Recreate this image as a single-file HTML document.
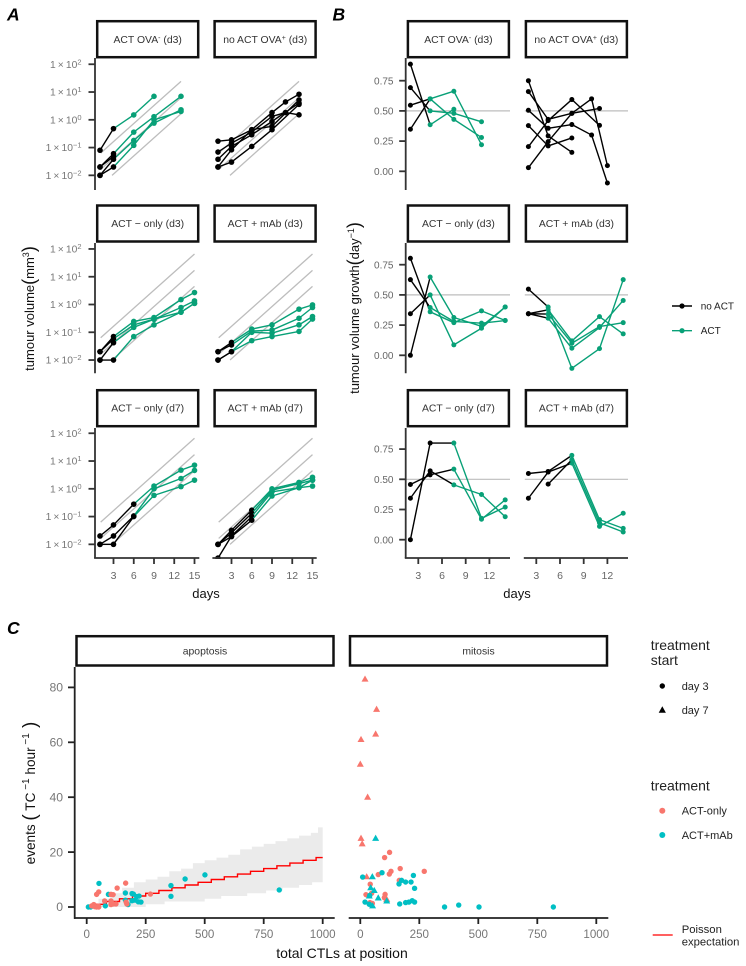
<!DOCTYPE html>
<html lang="en">
<head>
<meta charset="utf-8">
<title>Tumour growth and CTL events</title>
<style>
html,body{margin:0;padding:0;background:#fff;}
svg{display:block;font-family:"Liberation Sans",Arial,sans-serif;}
.strip rect{fill:#fff;stroke:#111;stroke-width:2.5;}
.strip text{font-size:10.4px;fill:#333;text-anchor:middle;}
.letter{font-size:17.5px;font-weight:bold;font-style:italic;fill:#000;}
.title{fill:#111;}
.leg{fill:#222;}
</style>
</head>
<body>
<svg id="figure" xmlns="http://www.w3.org/2000/svg" width="746" height="966" viewBox="0 0 746 966">
<g id="marks"></g>

<text class="letter" x="7" y="20.5">A</text>
<text class="letter" x="332.5" y="20.5">B</text>
<text class="letter" x="7" y="634">C</text>

<g class="strip"><rect x="97.2" y="21.2" width="101" height="36"/><text x="147.7" y="43">ACT OVA<tspan dy="-3" font-size="7">-</tspan><tspan dy="3"> (d3)</tspan></text></g>
<g class="strip"><rect x="214.6" y="21.2" width="101" height="36"/><text x="265.2" y="43">no ACT OVA<tspan dy="-3" font-size="7">+</tspan><tspan dy="3"> (d3)</tspan></text></g>
<g class="strip"><rect x="97.2" y="205.5" width="101" height="36"/><text x="147.7" y="227">ACT − only (d3)</text></g>
<g class="strip"><rect x="214.6" y="205.5" width="101" height="36"/><text x="265.2" y="227">ACT + mAb (d3)</text></g>
<g class="strip"><rect x="97.2" y="390.2" width="101" height="36"/><text x="147.7" y="411.5">ACT − only (d7)</text></g>
<g class="strip"><rect x="214.6" y="390.2" width="101" height="36"/><text x="265.2" y="411.5">ACT + mAb (d7)</text></g>

<g class="strip"><rect x="407.9" y="21.2" width="101" height="36"/><text x="458.4" y="43">ACT OVA<tspan dy="-3" font-size="7">-</tspan><tspan dy="3"> (d3)</tspan></text></g>
<g class="strip"><rect x="525.9" y="21.2" width="101" height="36"/><text x="576.4" y="43">no ACT OVA<tspan dy="-3" font-size="7">+</tspan><tspan dy="3"> (d3)</tspan></text></g>
<g class="strip"><rect x="407.9" y="205.5" width="101" height="36"/><text x="458.4" y="227">ACT − only (d3)</text></g>
<g class="strip"><rect x="525.9" y="205.5" width="101" height="36"/><text x="576.4" y="227">ACT + mAb (d3)</text></g>
<g class="strip"><rect x="407.9" y="390.2" width="101" height="36"/><text x="458.4" y="411.5">ACT − only (d7)</text></g>
<g class="strip"><rect x="525.9" y="390.2" width="101" height="36"/><text x="576.4" y="411.5">ACT + mAb (d7)</text></g>

<g class="strip"><rect x="76.5" y="636.2" width="257" height="29.3"/><text x="205" y="654.5">apoptosis</text></g>
<g class="strip"><rect x="350" y="636.2" width="257" height="29.3"/><text x="478.5" y="654.5">mitosis</text></g>

<text class="title" transform="translate(34,308.5) rotate(-90)" text-anchor="middle" font-size="13">tumour volume<tspan font-size="18" dy="1">(</tspan><tspan dy="-1">mm</tspan><tspan font-size="9" dy="-5">3</tspan><tspan font-size="18" dy="6">)</tspan></text>
<text class="title" transform="translate(359,308) rotate(-90)" text-anchor="middle" font-size="13">tumour volume growth<tspan font-size="18" dy="1">(</tspan><tspan dy="-1">day</tspan><tspan font-size="9" dy="-5">−1</tspan><tspan font-size="18" dy="6">)</tspan></text>
<text class="title" x="206" y="598" text-anchor="middle" font-size="13">days</text>
<text class="title" x="517" y="598" text-anchor="middle" font-size="13">days</text>
<text class="title" x="342" y="958" text-anchor="middle" font-size="14">total CTLs at position</text>
<text class="title" transform="translate(35,793) rotate(-90)" text-anchor="middle" font-size="13.6">events <tspan font-size="19" dy="1">(</tspan><tspan dy="-1"> TC</tspan><tspan font-size="10" dy="-6"> −1</tspan><tspan dy="6">  hour</tspan><tspan font-size="10" dy="-6"> −1</tspan><tspan font-size="19" dy="7"> )</tspan></text>

<g>
  <g>
    <line x1="672" y1="306" x2="692" y2="306" stroke="#000" stroke-width="1.4"/><circle cx="682" cy="306" r="2.6" fill="#000"/>
    <text class="leg" x="700.7" y="309.5" font-size="10">no ACT</text>
  </g>
  <g>
    <line x1="672" y1="330.7" x2="692" y2="330.7" stroke="#08A077" stroke-width="1.4"/><circle cx="682" cy="330.7" r="2.6" fill="#08A077"/>
    <text class="leg" x="700.7" y="334.2" font-size="10">ACT</text>
  </g>
</g>

<g>
  <text class="leg" x="650.7" y="650" font-size="14">treatment</text>
  <text class="leg" x="650.7" y="665" font-size="14">start</text>
  <g><circle cx="662.3" cy="686" r="2.7" fill="#000"/><text class="leg" x="681.7" y="690" font-size="11">day 3</text></g>
  <g><polygon points="662.3,706.3 665.9,712.7 658.7,712.7" fill="#000"/><text class="leg" x="681.7" y="714" font-size="11">day 7</text></g>
</g>

<g>
  <text class="leg" x="650.7" y="790.5" font-size="14">treatment</text>
  <g><circle cx="662.3" cy="810.7" r="3" fill="#F8766D"/><text class="leg" x="681.7" y="814.7" font-size="11">ACT-only</text></g>
  <g><circle cx="662.3" cy="835" r="3" fill="#00BFC4"/><text class="leg" x="681.7" y="839" font-size="11">ACT+mAb</text></g>
</g>

<g>
  <line x1="652.7" y1="935" x2="672.7" y2="935" stroke="#FF0000" stroke-width="1.3"/>
  <text class="leg" x="681.7" y="933" font-size="11.3">Poisson</text>
  <text class="leg" x="681.7" y="945.5" font-size="11.3">expectation</text>
</g>
</svg>

<script>
// ---- Panel A: tumour volume (mm3) ----
const volumeTicks = [100, 10, 1, 0.1, 0.01];
const volumeTickExponents = ['2', '1', '0', '−1', '−2'];
const dayTickLabels = [3, 6, 9, 12, 15];
const growthReferenceAtDay15 = [66, 17, 4.5];

const volDaysOvaNeg = [1, 3, 6, 9, 13];
const volOvaNeg = [
  [0.08, 0.48, 1.5, 7, null],
  [0.02, 0.06, 0.36, 1.3, 7],
  [0.01, 0.038, 0.18, 0.76, 2.3],
  [0.01, 0.02, 0.12, 1.0, 2.0],
  [0.02, 0.048, null, null, null]
];
const volDaysOvaPos = [1, 3, 6, 9, 11, 13];
const volOvaPos = [
  [0.17, 0.19, 0.44, 1.82, 4.4, 8.3],
  [0.069, 0.145, 0.36, 1.32, 1.82, 1.51],
  [0.038, 0.11, 0.29, 0.87, null, 4.0],
  [0.02, 0.083, 0.44, 0.58, null, 5.2],
  [0.02, 0.03, 0.11, 0.44, null, 3.6]
];
const volDaysFull = [1, 3, 6, 9, 13, 15];
const volOnlyD3 = [
  [0.02, 0.07, 0.245, 0.34, 1.5, 2.7],
  [0.02, 0.058, 0.185, 0.295, 0.53, 1.1],
  [0.01, 0.042, 0.15, 0.295, 0.78, 1.35],
  [0.01, 0.01, 0.07, 0.185, 0.53, 1.1]
];
const volMabD3 = [
  [0.02, 0.043, 0.13, 0.185, 0.68, 0.97],
  [0.02, 0.035, 0.11, 0.12, 0.32, 0.78],
  [0.01, 0.02, 0.1, 0.093, 0.185, 0.37],
  [0.01, 0.02, 0.05, 0.07, 0.107, 0.30]
];
const volOnlyD7 = [
  [0.02, 0.05, 0.28, 1.25, 4.7, 7.1],
  [0.01, 0.02, 0.105, 1.0, 2.35, 4.6],
  [0.01, 0.01, 0.1, 0.58, 1.2, 2.05]
];
const volMabD7 = [
  [0.01, 0.032, 0.17, 1.0, 1.7, 2.6],
  [0.01, 0.026, 0.13, 0.89, 1.55, 2.05],
  [0.0032, 0.02, 0.1, 0.78, 1.1, 2.05],
  [0.01, 0.019, 0.074, 0.55, 1.1, 1.25]
];

// ---- Panel B: tumour volume growth (per day) ----
const growthTicks = [0.75, 0.5, 0.25, 0];
const growthTickLabels = ['0.75', '0.50', '0.25', '0.00'];
const growthDayTicks = [3, 6, 9, 12];
const growthReferenceRate = 0.5;

const growthDays = [2, 4.5, 7.5, 11, 14];
const growthOvaNeg = [
  [0.887, 0.385, 0.514, null, null],
  [0.693, 0.5, 0.48, 0.41, null],
  [0.547, 0.6, 0.663, 0.22, null],
  [0.348, 0.6, 0.43, 0.28, null]
];
const growthDaysOvaPos = [2, 4.5, 7.5, 10, 11, 12];
const growthOvaPos = [
  [0.75, 0.293, 0.157, null, null, null],
  [0.66, 0.43, 0.48, null, 0.52, null],
  [0.505, 0.356, 0.387, 0.30, null, -0.097],
  [0.378, 0.21, 0.276, null, null, null],
  [0.204, 0.42, 0.594, null, 0.38, null],
  [0.03, 0.246, 0.48, 0.6, null, 0.047]
];
const growthOnlyD3 = [
  [0.803, 0.36, 0.27, 0.368, 0.288],
  [0.626, 0.396, 0.28, 0.266, 0.288],
  [0.344, 0.5, 0.086, 0.224, 0.4],
  [0, 0.648, 0.313, 0.24, 0.4]
];
const growthMabD3 = [
  [0.548, 0.4, -0.108, 0.055, 0.626],
  [0.344, 0.377, 0.119, 0.32, 0.177],
  [0.344, 0.341, 0.1, 0.238, 0.27],
  [0.344, 0.307, 0.058, 0.23, 0.454]
];
const growthOnlyD7 = [
  [0, 0.8, 0.8, 0.177, 0.27],
  [0.343, 0.57, 0.454, 0.374, 0.19],
  [0.457, 0.537, 0.584, 0.169, 0.33]
];
const growthMabD7 = [
  [0.548, 0.565, 0.698, 0.166, 0.094],
  [0.343, 0.56, 0.634, 0.11, 0.219],
  [null, 0.46, 0.662, 0.14, 0.064]
];

// ---- Panel C: events vs total CTLs ----
const eventTicks = [80, 60, 40, 20, 0];
const ctlTicks = [0, 250, 500, 750, 1000];

const apoptosisMabCtl = [52, 92, 164, 192, 198, 164, 192, 212, 222, 205, 219, 230, 175, 79, 7, 17, 357, 357, 417, 501, 816];
const apoptosisMabEvents = [8.6, 4.6, 5.1, 4.9, 4.7, 2.5, 2.3, 3.8, 4, 2.5, 1.9, 1.8, 0.9, 0.4, 0, 0, 7.8, 3.9, 10.2, 11.7, 6.2];
const apoptosisOnlyCtl = [165, 129, 51, 42, 103, 112, 270, 76, 103, 103, 124, 113, 167, 170, 30, 21, 35, 42, 51, 50];
const apoptosisOnlyEvents = [8.7, 6.9, 5.5, 4.6, 4.6, 4.5, 4.7, 2.2, 2.2, 0.9, 1.1, 1.1, 1.8, 1.1, 0.9, 0.4, 0.1, 0, 0, 0.3];

const mitosisOnlyDay7Ctl = [20, 69, 65, 3, 0, 31, 3, 8, 27, 112];
const mitosisOnlyDay7Events = [83, 72, 63, 61, 52, 40, 25, 23, 11, 2.8];
const mitosisMabDay7Ctl = [65, 51, 44, 59, 38, 76, 112, 52];
const mitosisMabDay7Events = [25, 11, 7, 6, 4, 3.3, 2.2, 0.4];
const mitosisOnlyDay3Ctl = [124, 103, 130, 123, 76, 169, 271, 165, 42, 24, 48, 105, 102, 41, 51];
const mitosisOnlyDay3Events = [19.9, 18, 13, 12, 11.8, 14, 13, 9.7, 8.3, 4.5, 5, 4.6, 3.4, 1.6, 1.3];
const mitosisMabDay3Ctl = [10, 92, 225, 175, 192, 215, 164, 230, 40, 20, 38, 167, 192, 206, 220, 230, 357, 417, 503, 818];
const mitosisMabDay3Events = [10.9, 12.5, 11.5, 9.7, 9.1, 9.1, 8.4, 6.8, 4.2, 1.8, 1, 1.1, 1.6, 1.8, 2.3, 1.8, 0, 0.7, 0, 0];

const poissonBreaks = [0, 28, 83, 139, 194, 250, 306, 361, 417, 472, 528, 583, 639, 694, 750, 806, 861, 917, 972];
const poissonMedian = [0, 1, 2, 3, 4, 5, 6, 7, 8, 9, 10, 11, 12, 13, 14, 15, 16, 17, 18];
const ribbonUpperBreaks = [0, 50, 100, 150, 200, 250, 300, 350, 400, 450, 500, 550, 600, 650, 700, 750, 800, 850, 900, 950, 980];
const ribbonUpper = [1, 3, 5, 7, 9, 10, 11, 13, 14, 16, 17, 18, 19, 21, 22, 23, 24, 25, 26, 27, 29];
const ribbonLowerBreaks = [0, 250, 330, 500, 570, 680, 760, 830, 900, 955];
const ribbonLower = [0, 1, 2, 3, 4, 5, 6, 7, 8, 9];

// ---- Drawing ----
const SVGNS = 'http://www.w3.org/2000/svg';
const BLACK = '#000000', GREEN = '#08A077', RED = '#F8766D', TEAL = '#00BFC4';
const root = document.getElementById('marks');

function add(parent, tag, attrs) {
  const el = document.createElementNS(SVGNS, tag);
  for (const k in attrs) el.setAttribute(k, attrs[k]);
  parent.appendChild(el);
  return el;
}
function addClip(id, x, y, w, h) {
  const c = add(root, 'clipPath', { id: id });
  add(c, 'rect', { x: x, y: y, width: w, height: h });
}

const rowsA = [{ y1: 119.8, top: 58, bottom: 190 }, { y1: 304.5, top: 243, bottom: 373.3 }, { y1: 488.8, top: 428, bottom: 558 }];
const rowsB = [{ y0: 171.3, top: 58, bottom: 190 }, { y0: 355.3, top: 243, bottom: 373.3 }, { y0: 539.7, top: 428, bottom: 558 }];
const colsA = [{ x1: 100, left: 95, right: 199.3 }, { x1: 218, left: 213.3, right: 316.7 }];
const colsB = [{ x0: 394.6, left: 405.7, right: 510 }, { x0: 512.6, left: 524.7, right: 628 }];

const PX_PER_DECADE = 27.77, PX_PER_DAY_A = 6.75, PX_PER_GROWTH = 120.8, PX_PER_DAY_B = 7.9;

function drawSeries(g, days, series, xFn, yFn, lastUntreated, r, colourByStart) {
  series.forEach(function (values) {
    let prev = null;
    values.forEach(function (v, i) {
      if (v === null) return;
      if (prev !== null) {
        const refDay = colourByStart ? days[prev] : days[i];
        const seg = add(g, 'line', { x1: xFn(days[prev]), y1: yFn(values[prev]), x2: xFn(days[i]), y2: yFn(v), stroke: refDay > lastUntreated ? GREEN : BLACK, 'stroke-width': 1.4 });
        
        
      }
      prev = i;
    });
    values.forEach(function (v, i) {
      if (v === null) return;
      const treated = days[i] > lastUntreated;
      const dot = add(g, 'circle', { cx: xFn(days[i]), cy: yFn(v), r: r, fill: treated ? GREEN : BLACK });
      
      
    });
  });
}

function drawVolumePanel(name, row, col, days, series, lastUntreated, refEndDay) {
  const R = rowsA[row], C = colsA[col];
  const xFn = function (d) { return C.x1 + (d - 1) * PX_PER_DAY_A; };
  const yFn = function (v) { return R.y1 - PX_PER_DECADE * Math.log10(v); };
  const clipId = 'clip-' + name;
  addClip(clipId, C.left, R.top, C.right - C.left, R.bottom - R.top + 1);
  const g = add(root, 'g', { 'clip-path': 'url(#' + clipId + ')' });
  
  
  growthReferenceAtDay15.forEach(function (v15) {
    const at = function (d) { return v15 * Math.pow(10, -(15 - d) * 0.5 / Math.LN10); };
    let start = 1.1;
    if (at(start) < 0.01) start = 15 - Math.log10(v15 / 0.01) * Math.LN10 / 0.5;
    const ref = add(g, 'line', { x1: xFn(start), y1: yFn(at(start)), x2: xFn(refEndDay), y2: yFn(at(refEndDay)), stroke: '#bdbdbd', 'stroke-width': 1.3 });
    
    
  });
  drawSeries(g, days, series, xFn, yFn, lastUntreated, 2.8, false);
  if (col === 0) {
    const axis = add(root, 'line', { x1: C.left, y1: R.top, x2: C.left, y2: R.bottom, stroke: '#333', 'stroke-width': 1.8 });
    
    
    volumeTicks.forEach(function (t, i) {
      const tick = add(root, 'line', { x1: C.left - 6.5, x2: C.left, y1: yFn(t), y2: yFn(t), stroke: '#333', 'stroke-width': 1.8 });
      
      
      const lab = add(root, 'text', { x: 81.5, y: yFn(t) + 3.6, 'text-anchor': 'end', 'font-size': 10.3, fill: '#777' });
      
      
      lab.appendChild(document.createTextNode('1\u2009×\u200910'));
      const sup = add(lab, 'tspan', { dy: -3.5, 'font-size': 7.5 });
      sup.textContent = volumeTickExponents[i];
    });
  }
  if (row === 2) {
    const xAxis = add(root, 'line', { x1: C.left - 0.9, y1: R.bottom, x2: C.right, y2: R.bottom, stroke: '#333', 'stroke-width': 1.8 });
    
    
    dayTickLabels.forEach(function (t) {
      const tick = add(root, 'line', { x1: xFn(t), x2: xFn(t), y1: R.bottom, y2: R.bottom + 6, stroke: '#333', 'stroke-width': 1.8 });
      
      
      const lab = add(root, 'text', { x: xFn(t), y: 579, 'text-anchor': 'middle', 'font-size': 10.5, fill: '#666' });
      
      
      lab.textContent = t;
    });
  }
}

function drawGrowthPanel(name, row, col, days, series, lastUntreated) {
  const R = rowsB[row], C = colsB[col];
  const xFn = function (d) { return C.x0 + d * PX_PER_DAY_B; };
  const yFn = function (v) { return R.y0 - PX_PER_GROWTH * v; };
  const clipId = 'clip-' + name;
  addClip(clipId, C.left, R.top, C.right - C.left, R.bottom - R.top + 1);
  const g = add(root, 'g', { 'clip-path': 'url(#' + clipId + ')' });
  
  
  const ref = add(g, 'line', { x1: C.left, x2: C.right, y1: yFn(growthReferenceRate), y2: yFn(growthReferenceRate), stroke: '#bdbdbd', 'stroke-width': 1.2 });
  
  
  drawSeries(g, days, series, xFn, yFn, lastUntreated, 2.5, true);
  if (col === 0) {
    const axis = add(root, 'line', { x1: C.left, y1: R.top, x2: C.left, y2: R.bottom, stroke: '#333', 'stroke-width': 1.8 });
    
    
    growthTicks.forEach(function (t, i) {
      const tick = add(root, 'line', { x1: C.left - 6.5, x2: C.left, y1: yFn(t), y2: yFn(t), stroke: '#333', 'stroke-width': 1.8 });
      
      
      const lab = add(root, 'text', { x: 393.5, y: yFn(t) + 3.6, 'text-anchor': 'end', 'font-size': 10, fill: '#666' });
      
      
      lab.textContent = growthTickLabels[i];
    });
  }
  if (row === 2) {
    const xAxis = add(root, 'line', { x1: C.left - 0.9, y1: R.bottom, x2: C.right, y2: R.bottom, stroke: '#333', 'stroke-width': 1.8 });
    
    
    growthDayTicks.forEach(function (t) {
      const tick = add(root, 'line', { x1: xFn(t), x2: xFn(t), y1: R.bottom, y2: R.bottom + 6, stroke: '#333', 'stroke-width': 1.8 });
      
      
      const lab = add(root, 'text', { x: xFn(t), y: 579, 'text-anchor': 'middle', 'font-size': 10.5, fill: '#666' });
      
      
      lab.textContent = t;
    });
  }
}

drawVolumePanel('volume-act-ova-neg', 0, 0, volDaysOvaNeg, volOvaNeg, 3, 13);
drawVolumePanel('volume-no-act-ova-pos', 0, 1, volDaysOvaPos, volOvaPos, 99, 13);
drawVolumePanel('volume-act-only-d3', 1, 0, volDaysFull, volOnlyD3, 3, 15);
drawVolumePanel('volume-act-mab-d3', 1, 1, volDaysFull, volMabD3, 3, 15);
drawVolumePanel('volume-act-only-d7', 2, 0, volDaysFull, volOnlyD7, 6, 15);
drawVolumePanel('volume-act-mab-d7', 2, 1, volDaysFull, volMabD7, 6, 15);

drawGrowthPanel('growth-act-ova-neg', 0, 0, growthDays, growthOvaNeg, 2);
drawGrowthPanel('growth-no-act-ova-pos', 0, 1, growthDaysOvaPos, growthOvaPos, 99);
drawGrowthPanel('growth-act-only-d3', 1, 0, growthDays, growthOnlyD3, 2);
drawGrowthPanel('growth-act-mab-d3', 1, 1, growthDays, growthMabD3, 2);
drawGrowthPanel('growth-act-only-d7', 2, 0, growthDays, growthOnlyD7, 4.5);
drawGrowthPanel('growth-act-mab-d7', 2, 1, growthDays, growthMabD7, 4.5);

// Panel C scales
const xApop = function (v) { return 86.7 + 0.236 * v; };
const xMit = function (v) { return 360.3 + 0.236 * v; };
const yEvents = function (v) { return 907 - 2.745 * v; };

function stepPoints(breaks, values, xFn, endValue) {
  const pts = [];
  breaks.forEach(function (b, i) {
    const next = i + 1 < breaks.length ? breaks[i + 1] : endValue;
    pts.push(xFn(b).toFixed(1) + ',' + yEvents(values[i]).toFixed(1));
    pts.push(xFn(next).toFixed(1) + ',' + yEvents(values[i]).toFixed(1));
  });
  return pts;
}

const ribbonPts = stepPoints(ribbonUpperBreaks, ribbonUpper, xApop, 1000).concat(stepPoints(ribbonLowerBreaks, ribbonLower, xApop, 1000).reverse());
const ribbon = add(root, 'polygon', { points: ribbonPts.join(' '), fill: '#ebebeb' });



const poissonLine = add(root, 'polyline', { points: stepPoints(poissonBreaks, poissonMedian, xApop, 1000).join(' '), fill: 'none', stroke: '#FF0000', 'stroke-width': 1.4 });



function drawCircles(xs, ys, xFn, color, name) {
  xs.forEach(function (x, i) {
    const c = add(root, 'circle', { cx: xFn(x), cy: yEvents(ys[i]), r: 2.7, fill: color });
    
    
  });
}
function drawTriangles(xs, ys, xFn, color, name) {
  xs.forEach(function (x, i) {
    const cx = xFn(x), cy = yEvents(ys[i]);
    const t = add(root, 'polygon', { points: (cx) + ',' + (cy - 3.7) + ' ' + (cx + 3.5) + ',' + (cy + 2.5) + ' ' + (cx - 3.5) + ',' + (cy + 2.5), fill: color });
    
    
  });
}

drawCircles(apoptosisMabCtl, apoptosisMabEvents, xApop, TEAL, 'apoptosis-point-act-mab');
drawCircles(apoptosisOnlyCtl, apoptosisOnlyEvents, xApop, RED, 'apoptosis-point-act-only');

drawCircles(mitosisOnlyDay3Ctl, mitosisOnlyDay3Events, xMit, RED, 'mitosis-point-act-only-day3');
drawTriangles(mitosisOnlyDay7Ctl, mitosisOnlyDay7Events, xMit, RED, 'mitosis-point-act-only-day7');
drawCircles(mitosisMabDay3Ctl, mitosisMabDay3Events, xMit, TEAL, 'mitosis-point-act-mab-day3');
drawTriangles(mitosisMabDay7Ctl, mitosisMabDay7Events, xMit, TEAL, 'mitosis-point-act-mab-day7');

const evAxis = add(root, 'line', { x1: 74.7, y1: 667, x2: 74.7, y2: 918.9, stroke: '#222', 'stroke-width': 1.8 });


eventTicks.forEach(function (t) {
  const tick = add(root, 'line', { x1: 68, x2: 74.7, y1: yEvents(t), y2: yEvents(t), stroke: '#222', 'stroke-width': 1.8 });
  
  
  const lab = add(root, 'text', { x: 63, y: yEvents(t) + 4.2, 'text-anchor': 'end', 'font-size': 12.2, fill: '#777' });
  
  
  lab.textContent = t;
});
[{ fn: xApop, from: 74, to: 334.7 }, { fn: xMit, from: 348.7, to: 608.3 }].forEach(function (p) {
  const ax = add(root, 'line', { x1: p.from, x2: p.to, y1: 918, y2: 918, stroke: '#222', 'stroke-width': 1.8 });
  
  
  ctlTicks.forEach(function (t) {
    const tick = add(root, 'line', { x1: p.fn(t), x2: p.fn(t), y1: 918, y2: 924, stroke: '#222', 'stroke-width': 1.8 });
    
    
    const lab = add(root, 'text', { x: p.fn(t), y: 938, 'text-anchor': 'middle', 'font-size': 11.6, fill: '#777' });
    
    
    lab.textContent = t;
  });
});
</script>
</body>
</html>
